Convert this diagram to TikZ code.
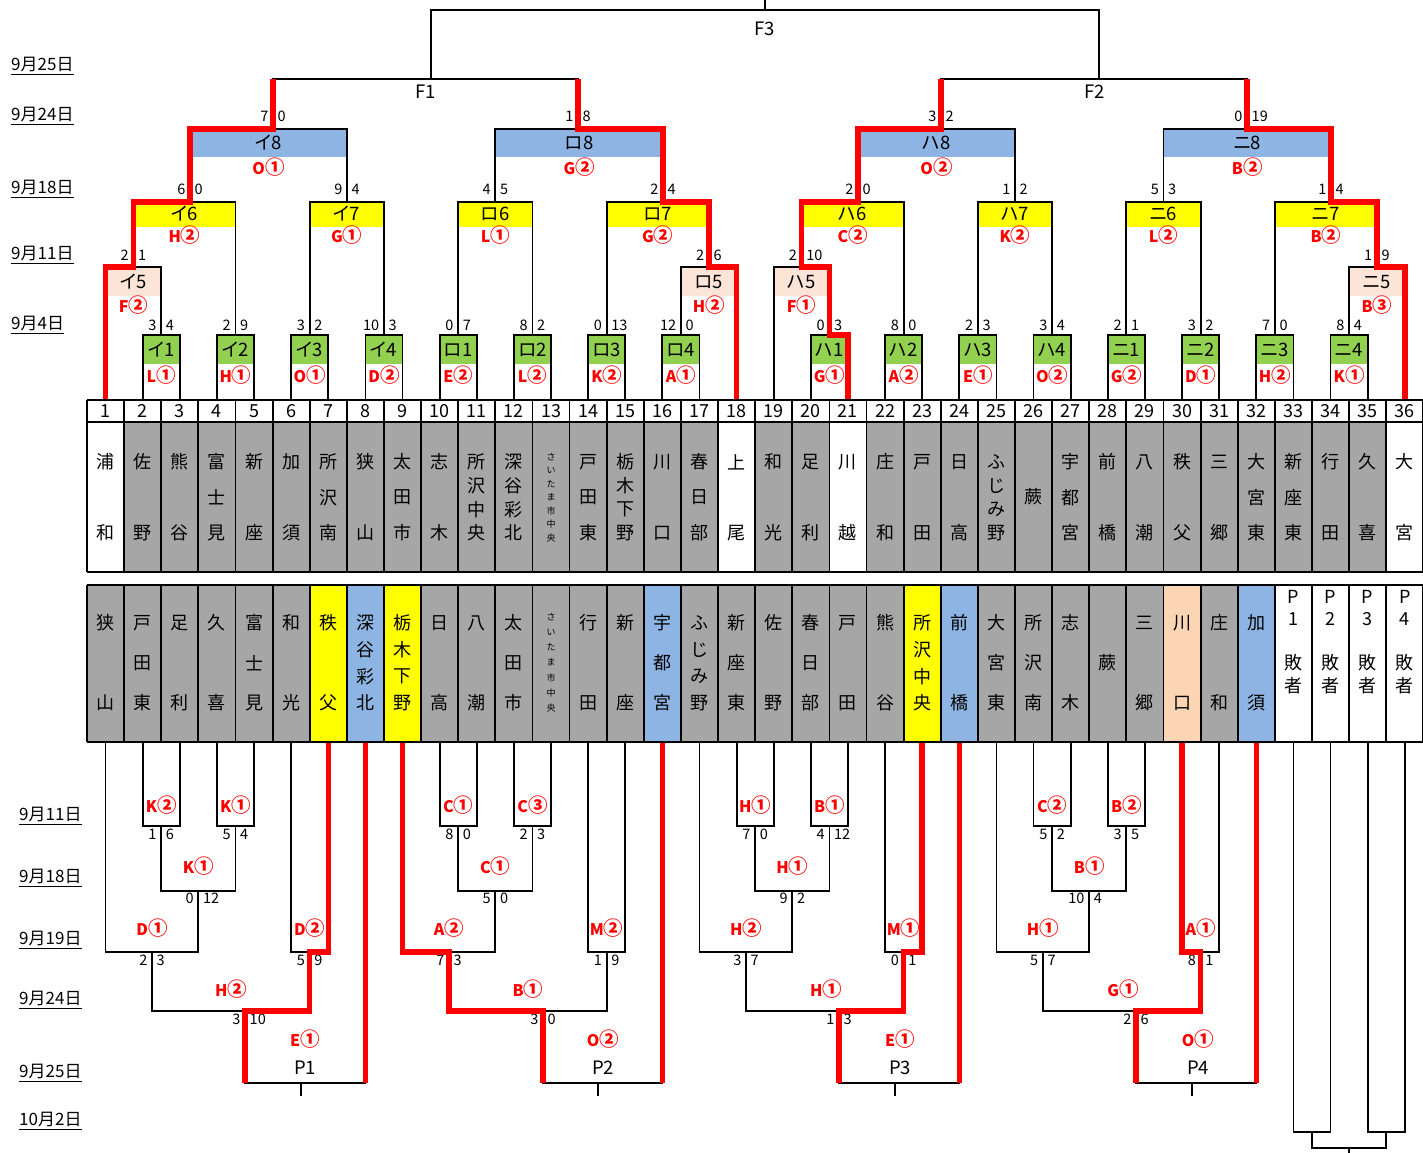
\documentclass[tikz,border=0pt]{standalone}
\usepackage{fontspec}
\setmainfont{Noto Sans CJK JP}
\newfontfamily\jpp[RawFeature=+palt]{Noto Sans CJK JP}
\definecolor{gr}{HTML}{A6A6A6}
\definecolor{grn}{HTML}{92D050}
\definecolor{pk}{HTML}{FCE4D6}
\definecolor{yl}{HTML}{FFFF00}
\definecolor{bl}{HTML}{8DB4E2}
\definecolor{pc}{HTML}{FCD5B4}
\newcommand\ci[1]{{\fontsize{19.5}{19}\selectfont\ifcase#1\or ①\or ②\or ③\fi}}
\newcommand\vcol[6]{%
  \foreach \ch [count=\k] in {#6} {%
    \pgfmathsetmacro\yy{#4+(\k-1)*(#5-#4)/max(#3-1,1)}%
    \node[#1] at ({#2},\yy) {\ch};%
  }}
\newcommand\sco[4]{\node[sc,anchor=east] at ({#1-4.5},#2) {#3};\node[sc,anchor=west] at ({#1+4.5},#2) {#4};}
\begin{document}
\begin{tikzpicture}[x=1pt,y=-1pt,
  declare function={cx(\i)=68.44+37.12*\i;},
  bk/.style={line width=1.8pt,black},
  rd/.style={line width=5.5pt,red,line join=miter},
  ml/.style={font=\jpp\fontsize{18.5}{18}\selectfont,inner sep=0},
  wl/.style={font=\fontsize{16}{16}\selectfont\bfseries,text=red,inner sep=0},
  sc/.style={font=\fontsize{14.5}{14}\selectfont,inner sep=0},
  nm/.style={font=\fontsize{18}{18}\selectfont,inner sep=0},
  sm/.style={font=\fontsize{9}{9}\selectfont,inner sep=0},
  pl/.style={font=\fontsize{18.5}{18}\selectfont,inner sep=0},
  dt/.style={font=\jpp\fontsize{17}{17}\selectfont,inner sep=0,anchor=west,text height=12pt,text depth=4pt}]
\fill[white] (0,0) rectangle (1423,1152);
\useasboundingbox (0,0) rectangle (1423,1152);

% ---------- dates ----------
\foreach \y/\t [count=\q] in {66/9月25日,116/9月24日,189/9月18日,255/9月11日,325/9月4日}{
  \node[dt] (dt\q) at (11,\y) {\t};
  \draw[line width=1.2pt] (dt\q.south west)--(dt\q.south east);}
\foreach \y/\t [count=\q] in {816/9月11日,878/9月18日,940/9月19日,1000/9月24日,1073/9月25日,1121/10月2日}{
  \node[dt] (db\q) at (19,\y) {\t};
  \draw[line width=1.2pt] (db\q.south west)--(db\q.south east);}

% ---------- cell fills ----------
\foreach \i in {2,...,17,19,20,22,23,...,35}{
  \fill[gr] ({87+37.12*(\i-1)},422) rectangle ({87+37.12*\i},572);}
\foreach \i/\c in {1/gr,2/gr,3/gr,4/gr,5/gr,6/gr,7/yl,8/bl,9/yl,10/gr,11/gr,12/gr,13/gr,14/gr,15/gr,16/bl,17/gr,18/gr,19/gr,20/gr,21/gr,22/gr,23/yl,24/bl,25/gr,26/gr,27/gr,28/gr,29/gr,30/pc,31/gr,32/bl}{
  \fill[\c] ({87+37.12*(\i-1)},585) rectangle ({87+37.12*\i},742);}

% ---------- grid ----------
\foreach \y in {400,422,572,585,742}{\draw[bk] (87,\y)--(1426,\y);}
\foreach \k in {0,...,36}{
  \draw[bk] ({87+37.12*\k},400)--({87+37.12*\k},572);
  \draw[bk] ({87+37.12*\k},585)--({87+37.12*\k},742);}
\foreach \i in {1,...,36}{\node[nm] (n\i) at ({cx(\i)},411) {\i};}

% ---------- upper names ----------
\vcol{nm}{cx(1)}{2}{462}{533}{浦,和}
\vcol{nm}{cx(2)}{2}{462}{533}{佐,野}
\vcol{nm}{cx(3)}{2}{462}{533}{熊,谷}
\vcol{nm}{cx(4)}{3}{462}{533}{富,士,見}
\vcol{nm}{cx(5)}{2}{462}{533}{新,座}
\vcol{nm}{cx(6)}{2}{462}{533}{加,須}
\vcol{nm}{cx(7)}{3}{462}{533}{所,沢,南}
\vcol{nm}{cx(8)}{2}{462}{533}{狭,山}
\vcol{nm}{cx(9)}{3}{462}{533}{太,田,市}
\vcol{nm}{cx(10)}{2}{462}{533}{志,木}
\vcol{nm}{cx(11)}{4}{462}{533}{所,沢,中,央}
\vcol{nm}{cx(12)}{4}{462}{533}{深,谷,彩,北}
\vcol{sm}{cx(13)}{7}{457}{538}{さ,い,た,ま,市,中,央}
\vcol{nm}{cx(14)}{3}{462}{533}{戸,田,東}
\vcol{nm}{cx(15)}{4}{462}{533}{栃,木,下,野}
\vcol{nm}{cx(16)}{2}{462}{533}{川,口}
\vcol{nm}{cx(17)}{3}{462}{533}{春,日,部}
\vcol{nm}{cx(18)}{2}{462}{533}{上,尾}
\vcol{nm}{cx(19)}{2}{462}{533}{和,光}
\vcol{nm}{cx(20)}{2}{462}{533}{足,利}
\vcol{nm}{cx(21)}{2}{462}{533}{川,越}
\vcol{nm}{cx(22)}{2}{462}{533}{庄,和}
\vcol{nm}{cx(23)}{2}{462}{533}{戸,田}
\vcol{nm}{cx(24)}{2}{462}{533}{日,高}
\vcol{nm}{cx(25)}{4}{462}{533}{ふ,じ,み,野}
\vcol{nm}{cx(26)}{1}{497}{497}{蕨}
\vcol{nm}{cx(27)}{3}{462}{533}{宇,都,宮}
\vcol{nm}{cx(28)}{2}{462}{533}{前,橋}
\vcol{nm}{cx(29)}{2}{462}{533}{八,潮}
\vcol{nm}{cx(30)}{2}{462}{533}{秩,父}
\vcol{nm}{cx(31)}{2}{462}{533}{三,郷}
\vcol{nm}{cx(32)}{3}{462}{533}{大,宮,東}
\vcol{nm}{cx(33)}{3}{462}{533}{新,座,東}
\vcol{nm}{cx(34)}{2}{462}{533}{行,田}
\vcol{nm}{cx(35)}{2}{462}{533}{久,喜}
\vcol{nm}{cx(36)}{2}{462}{533}{大,宮}

% ---------- lower names ----------
\vcol{nm}{cx(1)}{2}{623}{703}{狭,山}
\vcol{nm}{cx(2)}{3}{623}{703}{戸,田,東}
\vcol{nm}{cx(3)}{2}{623}{703}{足,利}
\vcol{nm}{cx(4)}{2}{623}{703}{久,喜}
\vcol{nm}{cx(5)}{3}{623}{703}{富,士,見}
\vcol{nm}{cx(6)}{2}{623}{703}{和,光}
\vcol{nm}{cx(7)}{2}{623}{703}{秩,父}
\vcol{nm}{cx(8)}{4}{623}{703}{深,谷,彩,北}
\vcol{nm}{cx(9)}{4}{623}{703}{栃,木,下,野}
\vcol{nm}{cx(10)}{2}{623}{703}{日,高}
\vcol{nm}{cx(11)}{2}{623}{703}{八,潮}
\vcol{nm}{cx(12)}{3}{623}{703}{太,田,市}
\vcol{sm}{cx(13)}{7}{617}{708}{さ,い,た,ま,市,中,央}
\vcol{nm}{cx(14)}{2}{623}{703}{行,田}
\vcol{nm}{cx(15)}{2}{623}{703}{新,座}
\vcol{nm}{cx(16)}{3}{623}{703}{宇,都,宮}
\vcol{nm}{cx(17)}{4}{623}{703}{ふ,じ,み,野}
\vcol{nm}{cx(18)}{3}{623}{703}{新,座,東}
\vcol{nm}{cx(19)}{2}{623}{703}{佐,野}
\vcol{nm}{cx(20)}{3}{623}{703}{春,日,部}
\vcol{nm}{cx(21)}{2}{623}{703}{戸,田}
\vcol{nm}{cx(22)}{2}{623}{703}{熊,谷}
\vcol{nm}{cx(23)}{4}{623}{703}{所,沢,中,央}
\vcol{nm}{cx(24)}{2}{623}{703}{前,橋}
\vcol{nm}{cx(25)}{3}{623}{703}{大,宮,東}
\vcol{nm}{cx(26)}{3}{623}{703}{所,沢,南}
\vcol{nm}{cx(27)}{2}{623}{703}{志,木}
\vcol{nm}{cx(28)}{1}{663}{663}{蕨}
\vcol{nm}{cx(29)}{2}{623}{703}{三,郷}
\vcol{nm}{cx(30)}{2}{623}{703}{川,口}
\vcol{nm}{cx(31)}{2}{623}{703}{庄,和}
\vcol{nm}{cx(32)}{2}{623}{703}{加,須}
\foreach \i/\p in {33/1,34/2,35/3,36/4}{
  \node[nm] (pp\p) at ({cx(\i)},597) {P};
  \node[nm] (pn\p) at ({cx(\i)},619) {\p};
  \node[nm] (pa\p) at ({cx(\i)},663) {敗};
  \node[nm] (pb\p) at ({cx(\i)},686) {者};}

% ---------- top bracket: round 1 ----------
\foreach \a/\lab/\win/\s/\t [count=\q] in {2/イ1/L\ci1/3/4,4/イ2/H\ci1/2/9,6/イ3/O\ci1/3/2,8/イ4/D\ci2/10/3,10/ロ1/E\ci2/0/7,12/ロ2/L\ci2/8/2,14/ロ3/K\ci2/0/13,16/ロ4/A\ci1/12/0,20/ハ1/G\ci1/0/3,22/ハ2/A\ci2/8/0,24/ハ3/E\ci1/2/3,26/ハ4/O\ci2/3/4,28/ニ1/G\ci2/2/1,30/ニ2/D\ci1/3/2,32/ニ3/H\ci2/7/0,34/ニ4/K\ci1/8/4}{
  \pgfmathsetmacro\xl{cx(\a)}\pgfmathsetmacro\xr{cx(\a+1)}\pgfmathsetmacro\xm{(\xl+\xr)/2}
  \fill[grn] (\xl,336) rectangle (\xr,364);
  \draw[bk] (\xl,400)--(\xl,335)--(\xr,335)--(\xr,400);
  \node[ml] (ra\q) at (\xm,350) {\lab};
  \node[wl] (wa\q) at (\xm,375) {\win};
  \sco{\xm}{325}{\s}{\t}}
% round 5
\foreach \xl/\yl/\xr/\yr/\o/\lab/\win/\s/\t [count=\q] in {105.56/400/161.24/335/133.4/イ5/F\ci2/2/1,680.92/335/736.60/400/708.8/ロ5/H\ci2/2/6,773.72/400/829.40/335/801.6/ハ5/F\ci1/2/10,1349.08/335/1404.76/400/1376.9/ニ5/B\ci3/1/9}{
  \pgfmathsetmacro\xm{(\xl+\xr)/2}
  \fill[pk] (\xl,268) rectangle (\xr,296);
  \draw[bk] (\xl,\yl)--(\xl,267)--(\xr,267)--(\xr,\yr);
  \node[ml] (rb\q) at (\xm,282) {\lab};
  \node[wl] (wb\q) at (\xm,305) {\win};
  \sco{\o}{255}{\s}{\t}}
% round 6/7
\foreach \xl/\yl/\xr/\yr/\o/\lab/\win/\s/\t [count=\q] in {133.4/267/235.48/335/190/イ6/H\ci2/6/0,309.72/335/383.96/335/347/イ7/G\ci1/9/4,458.20/335/532.44/335/495.3/ロ6/L\ci1/4/5,606.68/335/708.8/267/663/ロ7/G\ci2/2/4,801.6/267/903.64/335/858/ハ6/C\ci2/2/0,977.88/335/1052.12/335/1015/ハ7/K\ci2/1/2,1126.36/335/1200.60/335/1163.5/ニ6/L\ci2/5/3,1274.84/335/1376.9/267/1331/ニ7/B\ci2/1/4}{
  \pgfmathsetmacro\xm{(\xl+\xr)/2}
  \fill[yl] (\xl,203) rectangle (\xr,227);
  \draw[bk] (\xl,\yl)--(\xl,202)--(\xr,202)--(\xr,\yr);
  \node[ml] (rc\q) at (\xm,214) {\lab};
  \node[wl] (wc\q) at (\xm,235) {\win};
  \sco{\o}{189}{\s}{\t}}
% round 8
\foreach \xl/\xr/\o/\lab/\win/\s/\t [count=\q] in {190/347/273/イ8/O\ci1/7/0,495.3/663/578/ロ8/G\ci2/1/8,858/1015/941/ハ8/O\ci2/3/2,1163.5/1331/1247/ニ8/B\ci2/0/19}{
  \pgfmathsetmacro\xm{(\xl+\xr)/2}
  \fill[bl] (\xl,130) rectangle (\xr,157);
  \draw[bk] (\xl,202)--(\xl,129)--(\xr,129)--(\xr,202);
  \node[ml] (rd\q) at (\xm,143) {\lab};
  \node[wl] (wd\q) at (\xm,167) {\win};
  \sco{\o}{116}{\s}{\t}}
% finals
\draw[bk] (273,129)--(273,79)--(578,79)--(578,129);
\draw[bk] (941,129)--(941,79)--(1247,79)--(1247,129);
\draw[bk] (431,79)--(431,10)--(1099,10)--(1099,79);
\draw[bk] (765,10)--(765,0);
\node[pl] (f1) at (426,92) {F1};
\node[pl] (f2) at (1095,92) {F2};
\node[pl] (f3) at (765,29) {F3};

% ---------- bottom bracket ----------
% P1
\draw[bk] (142.68,742)--(142.68,826)--(179.80,826)--(179.80,742);
\node[wl] (b1) at (161.24,805) {K\ci2}; \sco{161.24}{834}{1}{6}
\draw[bk] (216.92,742)--(216.92,826)--(254.04,826)--(254.04,742);
\node[wl] (b2) at (235.48,805) {K\ci1}; \sco{235.48}{834}{5}{4}
\draw[bk] (161.24,826)--(161.24,891)--(235.48,891)--(235.48,826);
\node[wl] (b3) at (198.36,866) {K\ci1}; \sco{198.36}{898}{0}{12}
\draw[bk] (105.56,742)--(105.56,952)--(198.36,952)--(198.36,891);
\node[wl] (b4) at (152,928) {D\ci1}; \sco{152}{960}{2}{3}
\draw[bk] (291.16,742)--(291.16,952)--(328.28,952)--(328.28,742);
\node[wl] (b5) at (309.72,928) {D\ci2}; \sco{309.72}{960}{5}{9}
\draw[bk] (152,952)--(152,1011)--(309.72,1011)--(309.72,952);
\node[wl] (b6) at (231,989) {H\ci2}; \sco{245}{1019}{3}{10}
\draw[bk] (245,1011)--(245,1083)--(365.40,1083)--(365.40,742);
\node[wl] (b7) at (305,1039) {E\ci1}; \node[pl] (p1) at (305,1068) {P1};
\draw[bk] (301,1083)--(301,1096);
% P2
\draw[bk] (439.64,742)--(439.64,826)--(476.76,826)--(476.76,742);
\node[wl] (c1) at (458.2,805) {C\ci1}; \sco{458.2}{834}{8}{0}
\draw[bk] (513.88,742)--(513.88,826)--(551.00,826)--(551.00,742);
\node[wl] (c2) at (532.44,805) {C\ci3}; \sco{532.44}{834}{2}{3}
\draw[bk] (458.2,826)--(458.2,891)--(532.44,891)--(532.44,826);
\node[wl] (c3) at (495.3,866) {C\ci1}; \sco{495.3}{898}{5}{0}
\draw[bk] (402.52,742)--(402.52,952)--(495.3,952)--(495.3,891);
\node[wl] (c4) at (449,928) {A\ci2}; \sco{449}{960}{7}{3}
\draw[bk] (588.12,742)--(588.12,952)--(625.24,952)--(625.24,742);
\node[wl] (c5) at (606.68,928) {M\ci2}; \sco{606.68}{960}{1}{9}
\draw[bk] (449,952)--(449,1011)--(606.68,1011)--(606.68,952);
\node[wl] (c6) at (528,989) {B\ci1}; \sco{543}{1019}{3}{0}
\draw[bk] (543,1011)--(543,1083)--(662.36,1083)--(662.36,742);
\node[wl] (c7) at (603,1039) {O\ci2}; \node[pl] (p2) at (603,1068) {P2};
\draw[bk] (598,1083)--(598,1096);
% P3
\draw[bk] (736.60,742)--(736.60,826)--(773.72,826)--(773.72,742);
\node[wl] (e1) at (755.16,805) {H\ci1}; \sco{755.16}{834}{7}{0}
\draw[bk] (810.84,742)--(810.84,826)--(847.96,826)--(847.96,742);
\node[wl] (e2) at (829.4,805) {B\ci1}; \sco{829.4}{834}{4}{12}
\draw[bk] (755.16,826)--(755.16,891)--(829.4,891)--(829.4,826);
\node[wl] (e3) at (792.3,866) {H\ci1}; \sco{792.3}{898}{9}{2}
\draw[bk] (699.48,742)--(699.48,952)--(792.3,952)--(792.3,891);
\node[wl] (e4) at (746,928) {H\ci2}; \sco{746}{960}{3}{7}
\draw[bk] (885.08,742)--(885.08,952)--(922.20,952)--(922.20,742);
\node[wl] (e5) at (903.64,928) {M\ci1}; \sco{903.64}{960}{0}{1}
\draw[bk] (746,952)--(746,1011)--(903.64,1011)--(903.64,952);
\node[wl] (e6) at (826,989) {H\ci1}; \sco{839}{1019}{1}{3}
\draw[bk] (839,1011)--(839,1083)--(959.32,1083)--(959.32,742);
\node[wl] (e7) at (900,1039) {E\ci1}; \node[pl] (p3) at (900,1068) {P3};
\draw[bk] (895,1083)--(895,1096);
% P4
\draw[bk] (1033.56,742)--(1033.56,826)--(1070.68,826)--(1070.68,742);
\node[wl] (g1) at (1052.12,805) {C\ci2}; \sco{1052.12}{834}{5}{2}
\draw[bk] (1107.80,742)--(1107.80,826)--(1144.92,826)--(1144.92,742);
\node[wl] (g2) at (1126.36,805) {B\ci2}; \sco{1126.36}{834}{3}{5}
\draw[bk] (1052.12,826)--(1052.12,891)--(1126.36,891)--(1126.36,826);
\node[wl] (g3) at (1089.2,866) {B\ci1}; \sco{1089.2}{898}{10}{4}
\draw[bk] (996.44,742)--(996.44,952)--(1089.2,952)--(1089.2,891);
\node[wl] (g4) at (1042.8,928) {H\ci1}; \sco{1042.8}{960}{5}{7}
\draw[bk] (1182.04,742)--(1182.04,952)--(1219.16,952)--(1219.16,742);
\node[wl] (g5) at (1200.6,928) {A\ci1}; \sco{1200.6}{960}{8}{1}
\draw[bk] (1042.8,952)--(1042.8,1011)--(1200.6,1011)--(1200.6,952);
\node[wl] (g6) at (1123,989) {G\ci1}; \sco{1136}{1019}{2}{6}
\draw[bk] (1136,1011)--(1136,1083)--(1256.28,1083)--(1256.28,742);
\node[wl] (g7) at (1198,1039) {O\ci1}; \node[pl] (p4) at (1198,1068) {P4};
\draw[bk] (1192,1083)--(1192,1096);
% losers of P matches
\draw[bk] (1293.40,742)--(1293.40,1132)--(1330.52,1132)--(1330.52,742);
\draw[bk] (1367.64,742)--(1367.64,1132)--(1404.76,1132)--(1404.76,742);
\draw[bk] (1311.96,1132)--(1311.96,1148)--(1386.2,1148)--(1386.2,1132);
\draw[bk] (1349.08,1148)--(1349.08,1153);

% ---------- red winner paths ----------
\draw[rd] (273,79)--(273,129)--(190,129)--(190,202)--(133.4,202)--(133.4,267)--(105.56,267)--(105.56,399);
\draw[rd] (578,79)--(578,129)--(663,129)--(663,202)--(708.8,202)--(708.8,267)--(736.6,267)--(736.6,399);
\draw[rd] (941,79)--(941,129)--(858,129)--(858,202)--(801.6,202)--(801.6,267)--(829.4,267)--(829.4,335)--(847.96,335)--(847.96,399);
\draw[rd] (1247,79)--(1247,129)--(1331,129)--(1331,202)--(1376.9,202)--(1376.9,267)--(1404.76,267)--(1404.76,399);
\draw[rd] (328.28,743)--(328.28,952)--(309.72,952)--(309.72,1011)--(245,1011)--(245,1083);
\draw[rd] (365.40,743)--(365.40,1083);
\draw[rd] (402.52,743)--(402.52,952)--(449,952)--(449,1011)--(543,1011)--(543,1083);
\draw[rd] (662.36,743)--(662.36,1083);
\draw[rd] (922.20,743)--(922.20,952)--(903.64,952)--(903.64,1011)--(839,1011)--(839,1083);
\draw[rd] (959.32,743)--(959.32,1083);
\draw[rd] (1182.04,743)--(1182.04,952)--(1200.6,952)--(1200.6,1011)--(1136,1011)--(1136,1083);
\draw[rd] (1256.28,743)--(1256.28,1083);
\end{tikzpicture}
\end{document}
